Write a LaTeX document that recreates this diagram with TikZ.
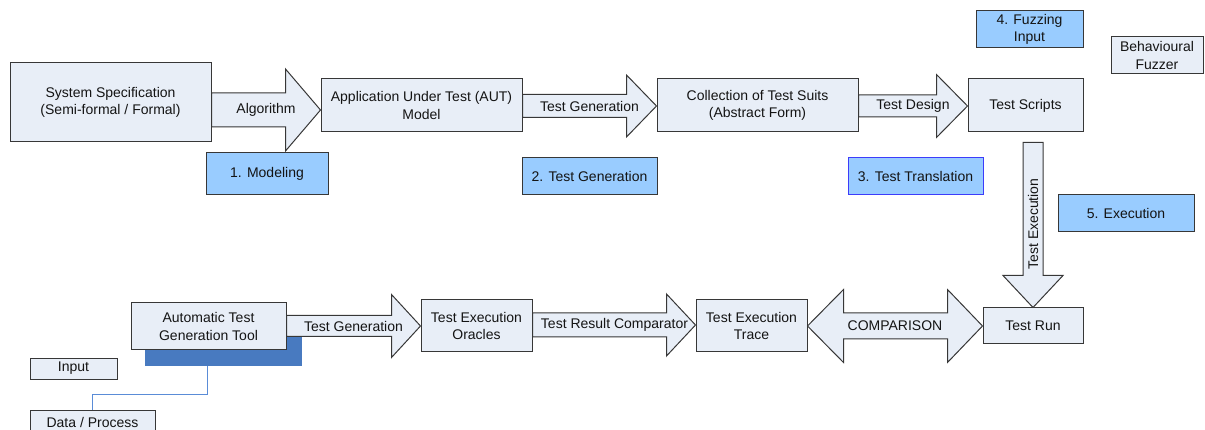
\documentclass[tikz,border=0pt]{standalone}
\usepackage{fontspec}
\setmainfont{Liberation Sans}
\usetikzlibrary{calc}
\definecolor{boxfill}{RGB}{232,238,247}
\definecolor{lblblue}{RGB}{153,204,255}
\definecolor{bordergray}{RGB}{55,55,55}
\definecolor{darkblue}{RGB}{72,122,192}
\definecolor{connblue}{RGB}{90,140,215}
\definecolor{transblue}{RGB}{60,60,250}
\definecolor{txt}{RGB}{20,20,20}
\newcommand\fsz{\fontsize{14}{17.5}\selectfont}
\tikzset{
  box/.style={draw=bordergray, fill=boxfill, line width=1pt, align=center, inner sep=0pt, font=\fsz, text=txt},
  lbl/.style={box, fill=lblblue},
  barrow/.style={draw=bordergray, fill=boxfill, line width=1pt, line join=miter},
  atxt/.style={font=\fsz, inner sep=0pt, text=txt},
  conn/.style={draw=connblue, line width=0.9pt},
}
% from node, to node, y centre, shaft half, head half, head length
\newcommand\harrow[6]{%
  \draw[barrow] let \p1=(#1.east), \p2=(#2.west) in
    (\x1,#3+#4) -- (\x2-#6,#3+#4) -- (\x2-#6,#3+#5) -- (\x2,#3)
    -- (\x2-#6,#3-#5) -- (\x2-#6,#3-#4) -- (\x1,#3-#4) -- cycle;}
\begin{document}
\begin{tikzpicture}[x=1pt,y=1pt]
\useasboundingbox (0,0) rectangle (1205,-430);
\clip (0,0) rectangle (1205,-430);

% top row
\node[box, minimum width=201pt, minimum height=79pt] (spec) at (110.5,-102.5) {System Specification\\(Semi-formal / Formal)};
\node[box, minimum width=201pt, minimum height=53pt] (aut) at (421.5,-105.5) {Application Under Test (AUT)\\Model};
\node[box, minimum width=201pt, minimum height=53pt] (coll) at (757.5,-105.5) {Collection of Test Suits\\(Abstract Form)};
\node[box, minimum width=115pt, minimum height=53pt] (scripts) at (1025.5,-105.5) {Test Scripts};
\node[lbl, minimum width=107pt, minimum height=37pt] (fuzz) at (1029.5,-29.5) {4. Fuzzing\\Input};
\node[box, minimum width=92pt, minimum height=37pt] (behav) at (1157,-55.5) {Behavioural\\Fuzzer};

% stage labels
\node[lbl, minimum width=122pt, minimum height=42pt] (mod) at (267,-174) {1. Modeling};
\node[lbl, minimum width=135pt, minimum height=37pt] (gen2) at (589.5,-176.5) {2. Test Generation};
\node[lbl, draw=transblue, minimum width=135pt, minimum height=37pt] (trans) at (915.5,-176.5) {3. Test Translation};
\node[lbl, minimum width=136pt, minimum height=37pt] (exec5) at (1126,-213.5) {5. Execution};

% bottom row
\node[fill=darkblue, inner sep=0pt, minimum width=157pt, minimum height=29pt] (shadow) at (223.5,-351.5) {};
\node[box, minimum width=155pt, minimum height=47pt] (atg) at (208.5,-326.5) {Automatic Test\\Generation Tool};
\node[box, minimum width=111pt, minimum height=52pt] (oracles) at (476.5,-326) {Test Execution\\Oracles};
\node[box, minimum width=111pt, minimum height=52pt] (trace) at (751.5,-326) {Test Execution\\Trace};
\node[box, minimum width=100pt, minimum height=36pt] (run) at (1033,-326) {Test Run};

% legend
\node[box, minimum width=87pt, minimum height=21pt] (input) at (73.5,-368.5) {Input};
\node[box, minimum width=125pt, minimum height=25pt] (data) at (92.5,-422.5) {Data / Process};
\draw[conn] ([xshift=63pt]shadow.south west) -- ++(0,-28) -| ([xshift=63pt]data.north west);

% block arrows, top row
\harrow{spec}{aut}{-110}{17}{41}{35}
\node[atxt] (lalg) at (266,-110) {Algorithm};
\harrow{aut}{coll}{-106}{11.5}{31}{30}
\node[atxt] (ltg1) at (589.5,-106) {Test Generation};
\harrow{coll}{scripts}{-106}{11}{31.5}{31}
\node[atxt] (ltd) at (913,-106) {Test Design};

% vertical arrow
\draw[barrow] let \p1=(scripts.south), \p2=(run.north) in
  (1023,\y1-10) -- (1023,\y2+32) -- (1003,\y2+32) -- (1033,\y2)
  -- (1063,\y2+32) -- (1043,\y2+32) -- (1043,\y1-10) -- cycle;
\node[atxt, rotate=90] (lexec) at (1033,-224) {Test Execution};

% block arrows, bottom row
\harrow{atg}{oracles}{-326}{10.5}{31.5}{29}
\node[atxt] (ltg2) at (353.5,-326) {Test Generation};
\harrow{oracles}{trace}{-325}{12}{31}{29}
\node[atxt] (lcmp) at (614.5,-325) {Test Result Comparator};

% double arrow
\draw[barrow] let \p1=(trace.east), \p2=(run.west) in
  (\x1,-326) -- (\x1+36,-289.5) -- (\x1+36,-313) -- (\x2-35,-313) -- (\x2-35,-289.5)
  -- (\x2,-326) -- (\x2-35,-362.5) -- (\x2-35,-339) -- (\x1+36,-339) -- (\x1+36,-362.5) -- cycle;
\node[atxt] (lcomp) at (895,-326) {COMPARISON};
\end{tikzpicture}
\end{document}
